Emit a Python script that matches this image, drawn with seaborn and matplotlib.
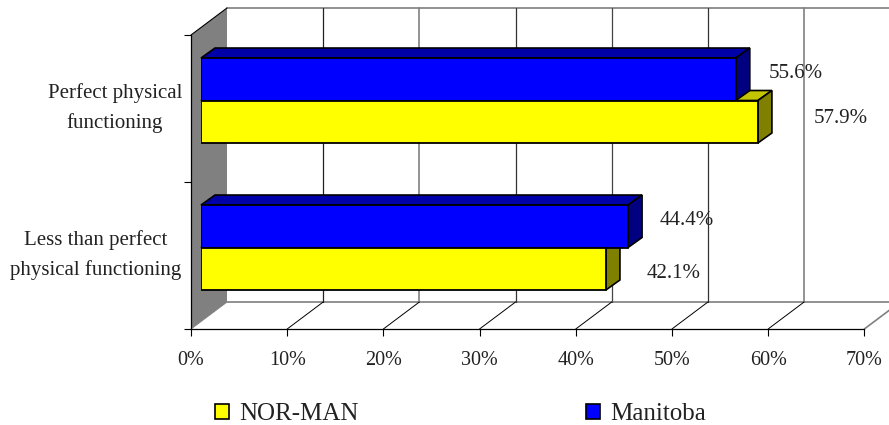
#!/usr/bin/python3
"""
Bar chart drawn with a fake 3D look: physical functioning, NOR-MAN and Manitoba
"""
import pandas as pd
import seaborn as sns
import matplotlib.pyplot as plt
from matplotlib.patches import Patch, Polygon
from matplotlib.transforms import IdentityTransform

categories = ['Perfect physical\nfunctioning', 'Less than perfect\nphysical functioning']
regions = ['Manitoba', 'NOR-MAN']
manitoba_values = [55.6, 44.4]
norman_values = [57.9, 42.1]
x_ticks = [0, 10, 20, 30, 40, 50, 60, 70]

W, H = 889, 425
# front plane of the box in pixels, from the top of the image
LEFT, RIGHT, TOP, BOTTOM = 191, 864.3, 35, 329
DEPTH_X, DEPTH_Y = 36, 27
BAR_SHIFT_X, BAR_SHIFT_Y = 10, 8
BAR_DEPTH_X, BAR_DEPTH_Y = 14, 10

sns.set_theme(style='white')
plt.rcParams['font.family'] = ['Liberation Serif', 'DejaVu Serif']

df = pd.DataFrame({
    'category': categories * 2,
    'region': ['Manitoba'] * 2 + ['NOR-MAN'] * 2,
    'value': manitoba_values + norman_values,
})


def px(x, y):
    """ image pixel (y going down) to display coordinates """
    return x, H - y


def add_face(fig, points, color, zorder):
    fig.add_artist(Polygon([px(*p) for p in points], closed=True, facecolor=color, edgecolor=color,
                           linewidth=0, transform=IdentityTransform(), zorder=zorder))


def add_line(fig, x, y, color, lw, zorder=1):
    fig.add_artist(plt.Line2D([x[0], x[1]], [H - y[0], H - y[1]], color=color, linewidth=lw,
                              transform=IdentityTransform(), zorder=zorder))


fig = plt.figure(figsize=(W / 100, H / 100), dpi=100, facecolor='white')
width, height = RIGHT - LEFT, BOTTOM - TOP

# front plane carries the axis, ticks and text
ax = fig.add_axes([LEFT / W, (H - BOTTOM) / H, width / W, height / H], zorder=2)
ax.patch.set_alpha(0)
ax.set_xlim(0, 70)
ax.set_ylim(1.5, -0.5)
ax.set_xticks(x_ticks)
ax.set_xticklabels([f'{t}%' for t in x_ticks], fontsize=14.5, color='#222222')
ax.set_yticks([-0.5, 0.5, 1.5])
ax.set_yticklabels([])
ax.tick_params(axis='both', length=5, width=0.8, color='black', left=True, bottom=True, pad=10.7)
sns.despine(ax=ax, top=True, right=True)
for side in ['left', 'bottom']:
    ax.spines[side].set_color('black')
    ax.spines[side].set_linewidth(0.9)

# walls and floor of the box
add_face(fig, [(LEFT, TOP), (LEFT + DEPTH_X, TOP - DEPTH_Y), (LEFT + DEPTH_X, BOTTOM - DEPTH_Y), (LEFT, BOTTOM)],
         '#808080', 1)
add_line(fig, (LEFT, LEFT + DEPTH_X), (TOP, TOP - DEPTH_Y), 'black', 0.8, 1.2)
add_line(fig, (LEFT + DEPTH_X, W), (TOP - DEPTH_Y, TOP - DEPTH_Y), '#909090', 1.4)
add_line(fig, (LEFT + DEPTH_X, W), (BOTTOM - DEPTH_Y, BOTTOM - DEPTH_Y), '#909090', 1.4)
grid_styles = {10: ('#222222', 0.9), 20: ('#808080', 1.2), 30: ('#333333', 0.9), 40: ('#444444', 0.9),
               50: ('#333333', 0.9), 60: ('#808080', 1.2)}
for t, (grid_color, grid_width) in grid_styles.items():
    x_front = ax.transData.transform((t, 0))[0]
    add_line(fig, (x_front + DEPTH_X, x_front + DEPTH_X), (TOP - DEPTH_Y, BOTTOM - DEPTH_Y), grid_color, grid_width)
    add_line(fig, (x_front, x_front + DEPTH_X), (BOTTOM, BOTTOM - DEPTH_Y), 'black', 0.7)
add_line(fig, (LEFT, LEFT + DEPTH_X), (BOTTOM, BOTTOM - DEPTH_Y), '#808080', 0.7, 1.2)
add_line(fig, (RIGHT, RIGHT + DEPTH_X), (BOTTOM, BOTTOM - DEPTH_Y), '#808080', 1.2)

# bars sit on a plane a little behind the front one
ax_bars = fig.add_axes([(LEFT + BAR_SHIFT_X) / W, (H - BOTTOM + BAR_SHIFT_Y) / H, width / W, height / H], zorder=4)
ax_bars.patch.set_alpha(0)
sns.barplot(data=df, x='value', y='category', hue='region', hue_order=regions, order=categories,
            palette={'Manitoba': '#0000FF', 'NOR-MAN': '#FFFF00'}, width=0.578, gap=0, dodge=True,
            edgecolor='black', linewidth=1.3, saturation=1, legend=False, ax=ax_bars)
ax_bars.set_xlim(0, 70)
ax_bars.set_ylim(1.5, -0.5)
ax_bars.axis('off')

# top and side faces of each bar, yellow ones first so blue covers them
bars = [p for p in ax_bars.patches if p.get_width() > 0]
for order, bar in enumerate(sorted(bars, key=lambda b: b.get_facecolor()[2])):
    (x0, y0), (x1, y1) = ax_bars.transData.transform([(bar.get_x(), bar.get_y()),
                                                      (bar.get_x() + bar.get_width(), bar.get_y() + bar.get_height())])
    y_top, y_bottom = H - y0, H - y1
    top_color, side_color = ('#0000A8', '#000080') if bar.get_facecolor()[2] > 0.5 else ('#C4C400', '#808000')
    dx, dy = BAR_DEPTH_X, BAR_DEPTH_Y
    top = [px(x0, y_top), px(x0 + dx, y_top - dy), px(x1 + dx, y_top - dy), px(x1, y_top)]
    side = [px(x1, y_top), px(x1 + dx, y_top - dy), px(x1 + dx, y_bottom - dy), px(x1, y_bottom)]
    for face, face_color in [(top, top_color), (side, side_color)]:
        fig.add_artist(Polygon(face, closed=True, facecolor=face_color, edgecolor='black', linewidth=1.2,
                               transform=IdentityTransform(), zorder=3 + order * 0.1))

# value labels, hand placed as in the original
label_offsets = {('Manitoba', 0): (60, 5.5), ('NOR-MAN', 0): (83, 3), ('Manitoba', 1): (59, 6), ('NOR-MAN', 1): (67.5, -5)}
for region, values in zip(regions, [manitoba_values, norman_values]):
    dodge = -0.1445 if region == 'Manitoba' else 0.1445
    for i, v in enumerate(values):
        ax_bars.annotate(f'{v}%', (v, i + dodge), xytext=label_offsets[(region, i)], textcoords='offset pixels',
                         ha='center', va='center', fontsize=15, color='#222222', annotation_clip=False)

# category labels are centred on their own column
label_columns = [115, 96]
for i, label in enumerate(categories):
    ax.text((label_columns[i] - LEFT) / width, i - 0.003, label, transform=ax.get_yaxis_transform(),
            ha='center', va='center', multialignment='center', fontsize=15, linespacing=1.65, color='#222222')

handles = [Patch(facecolor='#FFFF00', edgecolor='black', linewidth=1.2, label='NOR-MAN'),
           Patch(facecolor='#0000FF', edgecolor='black', linewidth=1.2, label='Manitoba')]
fig.legend(handles=handles, ncols=2, frameon=False, fontsize=18, loc='center left',
           bbox_to_anchor=(199 / W, (H - 414) / H), handlelength=0.56, handleheight=0.56,
           handletextpad=0.4, columnspacing=9.1, borderpad=0.15, labelcolor='#222222')

fig.savefig('out.png', dpi=100)
